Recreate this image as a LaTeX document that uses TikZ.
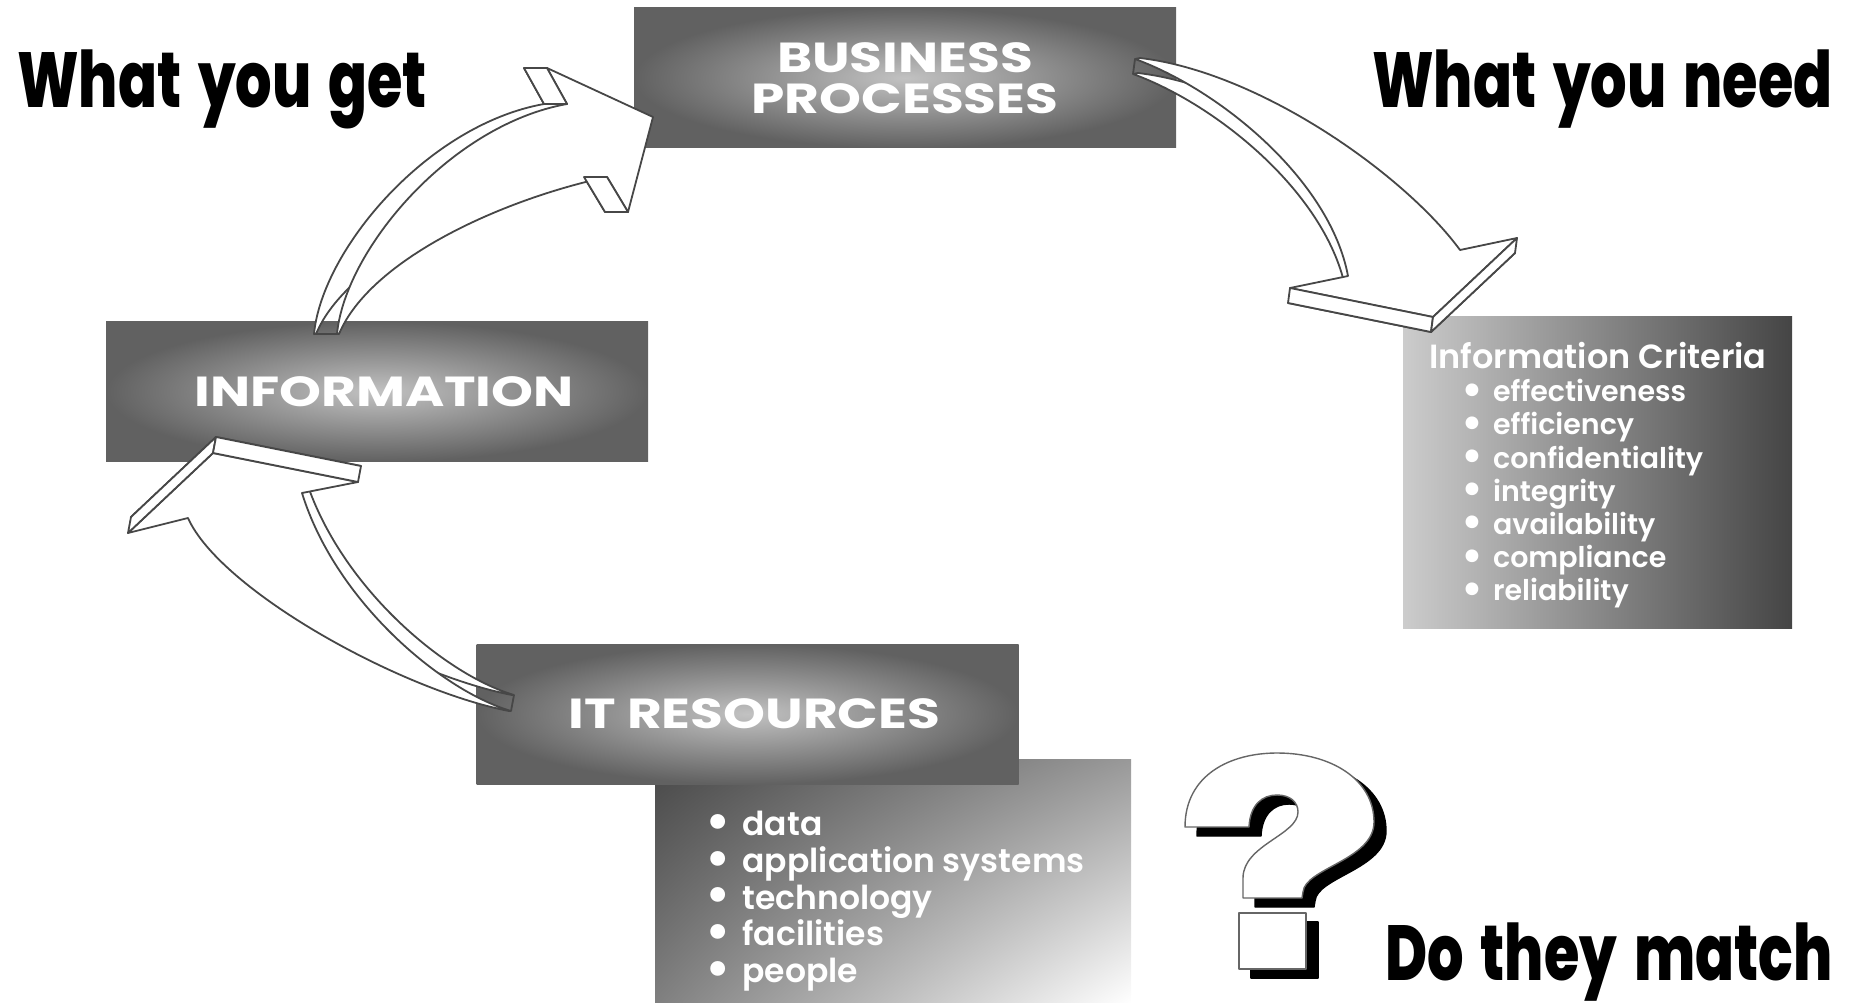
\documentclass[tikz,border=0pt]{standalone}
\usepackage{fontspec}
\usepackage{graphicx}
\usepackage{tikz}
\usetikzlibrary{positioning,calc,shadings}
\newfontfamily\headfont[FakeStretch=0.735, WordSpace=1.55]{Poppins ExtraBold}
\newfontfamily\boxfont[FakeStretch=1.27]{Poppins}
\newfontfamily\listfont{Poppins SemiBold}
\newcommand{\bul}{\raisebox{-0.12em}{\scalebox{1.6}{\textbullet}}}

\begin{document}
\begin{tikzpicture}[x=1pt, y=-1pt,
    procbox/.style={inner sep=0pt, minimum width=542pt, minimum height=140pt,
      inner color=black!24, outer color=black!62, text=white, align=center,
      font=\boxfont\bfseries\fontsize{42}{41}\selectfont},
    listtext/.style={anchor=north west, inner sep=0pt, text=white, align=left},
    headline/.style={anchor=base west, inner sep=0pt,
      font=\headfont\fontsize{78}{78}\selectfont},
    arrowface/.style={draw=black!72, line width=1.8pt, fill=white, line join=round},
    qmark/.style={line width=1.4pt, line join=round}]
    \useasboundingbox (0,0) rectangle (1851,1003);

    % List of IT resources (lies behind the IT RESOURCES box)
    \node[inner sep=0pt, minimum width=476pt, minimum height=244pt,
      shading=bilinear interpolation, shade, upper left=black!72,
      upper right=black!40, lower left=black!50, lower right=white] (RES) at (893,881) {};
    \node[listtext, font=\listfont\fontsize{33}{36.7}\selectfont] (RESTXT) at (705,811)
      {\bul\hspace{12pt}data\\ \bul\hspace{12pt}application systems\\
       \bul\hspace{12pt}technology\\ \bul\hspace{12pt}facilities\\
       \bul\hspace{12pt}people};

    % Information criteria
    \node[inner sep=0pt, minimum width=389pt, minimum height=312pt,
      left color=black!20, right color=black!73] (CRIT) at (1597.5,472) {};
    \node[listtext, font=\listfont\fontsize{28.5}{33.2}\selectfont] (CRITTXT) at (1429,342)
      {{\fontsize{33.5}{33}\selectfont Information Criteria}\\
       \hspace*{32pt}\bul\hspace{10pt}effectiveness\\
       \hspace*{32pt}\bul\hspace{10pt}efficiency\\
       \hspace*{32pt}\bul\hspace{10pt}confidentiality\\
       \hspace*{32pt}\bul\hspace{10pt}integrity\\
       \hspace*{32pt}\bul\hspace{10pt}availability\\
       \hspace*{32pt}\bul\hspace{10pt}compliance\\
       \hspace*{32pt}\bul\hspace{10pt}reliability};

    % The three main blocks
    \node[procbox] (BP) at (905,78) {BUSINESS\\PROCESSES};
    \node[procbox] (INFO) at (377,391.5) {\hspace*{14pt}INFORMATION};
    \node[procbox] (ITR) at (747.5,714) {\hspace*{14pt}IT RESOURCES};

    % Headlines
    \node[headline] (GET) at (17,108) {What you get};
    \node[headline] (NEED) at (1372,108) {What you need};
    \node[headline] (MATCH) at (1385,980) {Do they match};

    % Arrow INFORMATION -> BUSINESS PROCESSES
    \foreach \dx/\dy in {-23/0, 0/0}
      \draw[arrowface, shift={(\dx,\dy)}] (337,334) .. controls (345,250) and (450,125) .. (567,104)
        -- (547,68) -- (653,117) -- (628,212) -- (607,177)
        .. controls (500,200) and (370,260) .. (339,334) -- cycle;
    \draw[arrowface] (567,104) -- (547,68) -- (524,68) -- (544,104) -- cycle;
    \draw[arrowface] (607,177) -- (628,212) -- (605,212) -- (584,177) -- cycle;
    \draw[arrowface] (314,334) -- (337,334);

    % Arrow BUSINESS PROCESSES -> Information Criteria
    \foreach \dx/\dy in {-2/15, 0/0}
      \draw[arrowface, shift={(\dx,\dy)}] (1135,59) .. controls (1220,90) and (1330,180) .. (1348,276)
        -- (1290,288) -- (1433,317) -- (1517,238) -- (1460,250)
        .. controls (1405,175) and (1260,72) .. (1140,58) -- cycle;
    \draw[arrowface] (1290,288) -- (1433,317) -- (1431,332) -- (1288,303) -- cycle;
    \draw[arrowface] (1433,317) -- (1517,238) -- (1515,253) -- (1431,332) -- cycle;
    \draw[arrowface] (1135,59) -- (1133,74);

    % Arrow IT RESOURCES -> INFORMATION
    \foreach \dx/\dy in {3/-16, 0/0}
      \draw[arrowface, shift={(\dx,\dy)}] (511,711) .. controls (440,690) and (335,600) .. (302,493)
        -- (358,482) -- (213,453) -- (128,533) -- (188,518)
        .. controls (220,590) and (400,690) .. (509,711) -- cycle;
    \draw[arrowface] (128,533) -- (213,453) -- (216,437) -- (131,517) -- cycle;
    \draw[arrowface] (213,453) -- (358,482) -- (361,466) -- (216,437) -- cycle;
    \draw[arrowface] (511,711) -- (514,695);

    % Question mark with its shadow
    \begin{scope}[shift={(1180,740)}]
      \foreach \dx/\dy/\col/\edge in {12/9/black/black, 0/0/white/black!60} {
        \draw[qmark, fill=\col, draw=\edge, shift={(\dx,\dy)}] (5,87)
          .. controls (5,35) and (50,13) .. (97,13)
          .. controls (152,13) and (194,40) .. (194,82)
          .. controls (194,120) and (125,128) .. (123,152) -- (122,158) -- (63,158) -- (63,138)
          .. controls (63,105) and (118,95) .. (118,72)
          .. controls (118,62) and (110,55) .. (97,55)
          .. controls (82,55) and (70,65) .. (69,87) -- cycle;
        \draw[qmark, fill=\col, draw=\edge, shift={(\dx,\dy)}] (59,173) rectangle (126,229);
      }
    \end{scope}
\end{tikzpicture}
\end{document}
